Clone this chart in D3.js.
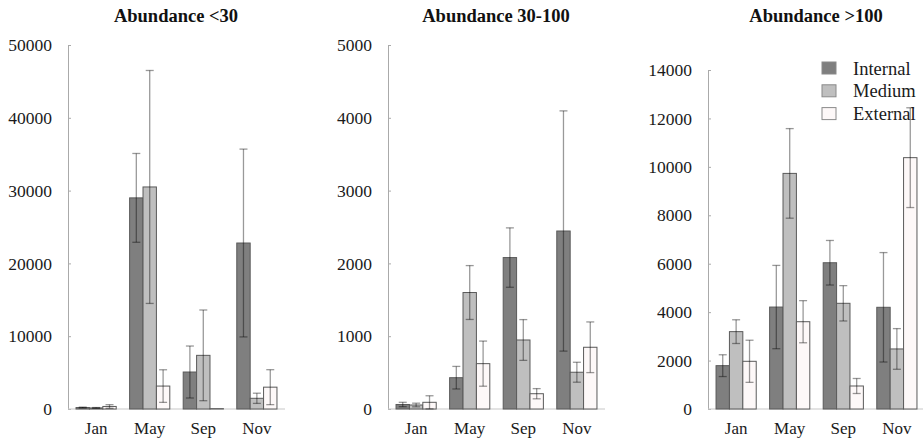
<!DOCTYPE html>
<html>
<head>
<meta charset="utf-8">
<script src="https://cdn.jsdelivr.net/npm/d3@7"></script>
<style>
  html, body { margin: 0; padding: 0; background: #fff; }
  svg { display: block; }
  svg text { font-family: "Liberation Serif", "Times New Roman", Times, "DejaVu Serif", serif; }
</style>
</head>
<body>
<svg id="chart" width="923" height="441"></svg>
<script>
// Sampling months and zone series
const months = ["Jan", "May", "Sep", "Nov"];
const zones = ["Internal", "Medium", "External"];
const zoneColors = ["#7f7f7f", "#bfbfbf", "#fdf8f8"];

// Abundance <30: means and error half-widths, per zone, per month
const lowMean = [
  [200, 29000, 5080, 22800],
  [150, 30500, 7370, 1470],
  [350, 3150, 50, 3000]
];
const lowErr = [
  [60, 6100, 3570, 12900],
  [50, 16000, 6230, 700],
  [250, 2240, 0, 2400]
];

// Abundance 30-100
const midMean = [
  [62, 430, 2080, 2445],
  [55, 1600, 948, 505],
  [92, 623, 210, 848]
];
const midErr = [
  [30, 155, 408, 1650],
  [25, 370, 280, 137],
  [90, 310, 70, 348]
];

// Abundance >100
const highMean = [
  [1790, 4210, 6040, 4200],
  [3195, 9730, 4365, 2480],
  [1970, 3605, 950, 10380]
];
const highErr = [
  [450, 1720, 920, 2260],
  [490, 1850, 730, 840],
  [870, 870, 310, 2060]
];

const lowTicks = [0, 10000, 20000, 30000, 40000, 50000];
const midTicks = [0, 1000, 2000, 3000, 4000, 5000];
const highTicks = [0, 2000, 4000, 6000, 8000, 10000, 12000, 14000];

const serif = '"Liberation Serif", "Times New Roman", Times, "DejaVu Serif", serif';

const panels = [
  { title: "Abundance <30", mean: lowMean, err: lowErr, ticks: lowTicks, yMax: 50000,
    x0: 68, x1: 285, yTop: 45, titleX: 176, legend: false },
  { title: "Abundance 30-100", mean: midMean, err: midErr, ticks: midTicks, yMax: 5000,
    x0: 388, x1: 605, yTop: 45, titleX: 496, legend: false },
  { title: "Abundance >100", mean: highMean, err: highErr, ticks: highTicks, yMax: 14000,
    x0: 708, x1: 925, yTop: 70, titleX: 816, legend: true }
];

const svg = d3.select("#chart");
const yBase = 409;

panels.forEach(p => {
  const g = svg.append("g");

  const x = d3.scaleBand().domain(months).range([p.x0, p.x1])
    .paddingInner(0.25).paddingOuter(0.15);
  const xz = d3.scaleBand().domain(zones).range([0, x.bandwidth()]);
  const y = d3.scaleLinear().domain([0, p.yMax]).range([yBase, p.yTop]);

  // panel title
  g.append("text")
    .attr("x", p.titleX).attr("y", 22)
    .attr("text-anchor", "middle")
    .style("font-family", serif)
    .style("font-weight", "bold")
    .style("font-size", "18.5px")
    .attr("fill", "#111")
    .text(p.title);

  // y axis with short inward ticks
  const yAxis = d3.axisLeft(y).tickValues(p.ticks).tickSizeInner(-3).tickSizeOuter(0)
    .tickPadding(16).tickFormat(d3.format("d"));
  const ya = g.append("g").attr("transform", `translate(${p.x0},0)`).call(yAxis);
  ya.attr("font-family", null).attr("font-size", null);
  ya.select(".domain").attr("stroke", "#aaa");
  ya.selectAll(".tick line").attr("stroke", "#aaa");
  ya.selectAll(".tick text")
    .style("font-family", serif)
    .style("font-size", "17.5px").attr("fill", "#1a1a1a");

  // baseline
  g.append("line")
    .attr("x1", p.x0).attr("x2", Math.min(p.x1, 923))
    .attr("y1", yBase).attr("y2", yBase)
    .attr("stroke", "#c8c8c8").attr("stroke-width", 1.2);

  // month labels
  g.selectAll(".month").data(months).join("text")
    .attr("x", d => x(d) + x.bandwidth() / 2)
    .attr("y", 434)
    .attr("text-anchor", "middle")
    .style("font-family", serif)
    .style("font-size", "17px")
    .attr("fill", "#1a1a1a")
    .text(d => d);

  // legend (drawn beneath the bars' error lines)
  if (p.legend) {
    const lg = g.append("g");
    zones.forEach((z, i) => {
      lg.append("rect")
        .attr("x", 822).attr("y", 62 + i * 22.8)
        .attr("width", 14).attr("height", 12)
        .attr("fill", zoneColors[i]).attr("stroke", "#8a8a8a").attr("stroke-width", 1);
      lg.append("text")
        .attr("x", 853).attr("y", 74.5 + i * 22.8)
        .style("font-family", serif)
        .style("font-size", "18.5px").attr("fill", "#1a1a1a")
        .text(z);
    });
  }

  // bars
  const cells = [];
  zones.forEach((z, i) => months.forEach((m, j) => {
    cells.push({ zone: z, zi: i, month: m, v: p.mean[i][j], e: p.err[i][j] });
  }));

  g.selectAll(".bar").data(cells).join("rect")
    .attr("x", d => x(d.month) + xz(d.zone))
    .attr("y", d => y(d.v))
    .attr("width", xz.bandwidth())
    .attr("height", d => yBase - y(d.v))
    .attr("fill", d => zoneColors[d.zi])
    .attr("stroke", "#5a5a5a").attr("stroke-width", 1);

  // error bars
  const eb = g.selectAll(".err").data(cells.filter(d => d.e > 0)).join("g")
    .attr("stroke", "rgba(0,0,0,0.4)").attr("stroke-width", 1.3);
  const cx = d => x(d.month) + xz(d.zone) + xz.bandwidth() / 2;
  eb.append("line")
    .attr("x1", cx).attr("x2", cx)
    .attr("y1", d => y(d.v + d.e)).attr("y2", d => y(Math.max(0, d.v - d.e)));
  eb.append("line")
    .attr("x1", d => cx(d) - 4).attr("x2", d => cx(d) + 4)
    .attr("y1", d => y(d.v + d.e)).attr("y2", d => y(d.v + d.e));
  eb.append("line")
    .attr("x1", d => cx(d) - 4).attr("x2", d => cx(d) + 4)
    .attr("y1", d => y(Math.max(0, d.v - d.e))).attr("y2", d => y(Math.max(0, d.v - d.e)));
});
</script>
</body>
</html>
